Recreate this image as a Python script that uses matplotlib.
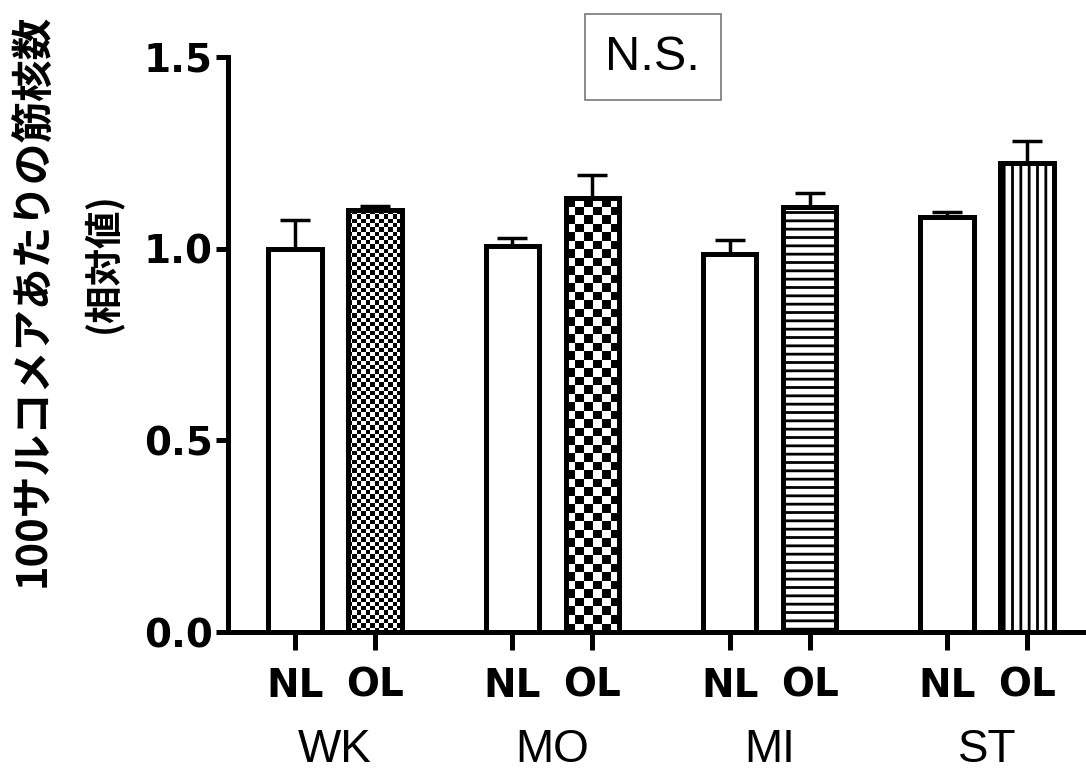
"""
100サルコメアあたりの筋核数 (相対値) の棒グラフ
"""
import numpy as np
import matplotlib
matplotlib.use('Agg')
import matplotlib.pyplot as plt

# データ
groups = ['WK', 'MO', 'MI', 'ST']
conditions = ['NL', 'OL']
nl_mean = [1.00, 1.007, 0.986, 1.083]
nl_err = [0.075, 0.021, 0.037, 0.013]
ol_mean = [1.10, 1.132, 1.109, 1.224]
ol_err = [0.012, 0.06, 0.036, 0.057]
# OL棒の模様: 細かい市松, 粗い市松, 横線, 縦線
ol_fill = [('check', 4.3), ('check', 8.5), ('hatch', '--'), ('hatch', '||')]

plt.rcParams['hatch.linewidth'] = 2.0
plt.rcParams['font.family'] = ['Liberation Sans', 'DejaVu Sans']

fig = plt.figure(figsize=(10.86, 7.74), dpi=100)
W, H = 1086, 774
ax = fig.add_axes([228 / W, 1 - 632 / H, (W - 228) / W + 0.01, (632 - 57) / H])

xmax = 3.455 + 0.01 * W / 217.3
ax.set_xlim(-0.492, xmax)
ax.set_ylim(0, 1.5)

offset = 0.184
width = 0.245
lw = 3.6
x = np.arange(len(groups))

# NL (白)
ax.bar(x - offset, nl_mean, width, color='white', edgecolor='black', linewidth=lw, zorder=3)
ax.errorbar(x - offset, nl_mean, yerr=[np.zeros(len(x)), nl_err], fmt='none',
            ecolor='black', elinewidth=2.5, capsize=11, capthick=2.5, zorder=2)

# OL (模様あり)
px_x = 217.3
px_y = 383.3
ax.errorbar(x + offset, ol_mean, yerr=[np.zeros(len(x)), ol_err], fmt='none',
            ecolor='black', elinewidth=2.5, capsize=11, capthick=2.5, zorder=2)
for i, (kind, val) in enumerate(ol_fill):
    xc = x[i] + offset
    h = ol_mean[i]
    if kind == 'check':
        base = ax.bar(xc, h, width, color='white', edgecolor='none', zorder=3)[0]
        nx = max(1, int(round(width * px_x / val)))
        ny = max(1, int(round(h * px_y / val)))
        ii, jj = np.meshgrid(np.arange(nx), np.arange(ny))
        board = (ii + jj) % 2
        im = ax.imshow(board, cmap='gray', vmin=0, vmax=1, interpolation='nearest',
                       extent=(xc - width / 2, xc + width / 2, 0, h), aspect='auto',
                       origin='lower', zorder=3.5)
        im.set_clip_path(base)
        ax.bar(xc, h, width, color='none', edgecolor='black', linewidth=lw, zorder=4)
    else:
        ax.bar(xc, h, width, color='white', edgecolor='black', hatch=val,
               linewidth=lw, zorder=3)

ax.set_xlim(-0.492, xmax)
ax.set_ylim(0, 1.5)

# 軸
for s in ['top', 'right']:
    ax.spines[s].set_visible(False)
for s in ['left', 'bottom']:
    ax.spines[s].set_linewidth(lw)
    ax.spines[s].set_zorder(5)

bold = dict(family='DejaVu Sans', fontweight='bold')
ax.set_yticks([0, 0.5, 1.0, 1.5])
ax.set_yticklabels(['0.0', '0.5', '1.0', '1.5'], fontsize=28, **bold)
ax.tick_params(axis='y', length=9, width=lw, pad=2)

xt = np.concatenate([x - offset, x + offset])
xl = ['NL'] * len(x) + ['OL'] * len(x)
ax.set_xticks(xt)
ax.set_xticklabels(xl, fontsize=28, **bold)
ax.tick_params(axis='x', length=13, width=lw, pad=12)

for i, g in enumerate(groups):
    ax.text(x[i], -0.205, g, transform=ax.get_xaxis_transform(), ha='center',
            va='center', fontsize=33)

# N.S.
ax.text(0.489, 1.0, 'N.S.', transform=ax.transAxes, ha='center',
        va='center', fontsize=35, clip_on=False, zorder=6,
        bbox=dict(boxstyle='square,pad=0.42', facecolor='white', edgecolor='#777777',
                  linewidth=1.2))

# 縦軸ラベル
cjk = ['Noto Sans CJK JP', 'DejaVu Sans']
fig.text(33 / W, 1 - 300 / H, '100サルコメアあたりの筋核数', rotation=90, ha='center',
         va='center', fontsize=30, family=cjk, fontweight='bold')
fig.text(102 / W, 1 - 263 / H, '(相対値)', rotation=90, ha='center', va='center',
         fontsize=27, family=cjk, fontweight='bold')

fig.savefig('out.png', dpi=100)
